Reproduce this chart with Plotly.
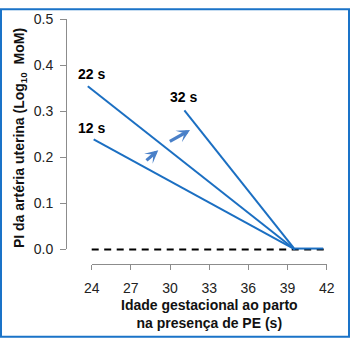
import plotly.graph_objects as go

# ---------------- data ----------------
weeks_12s = [24.15, 39.56]
pi_12s = [0.239, 0.0]
weeks_22s = [23.7, 39.56]
pi_22s = [0.354, 0.0]
weeks_32s = [31.1, 39.56]
pi_32s = [0.302, 0.0]
weeks_after = [39.56, 41.73]
pi_after = [0.002, 0.002]
baseline_weeks = [24, 42]
baseline_pi = [0.0, 0.0]

label_text = ["12 s", "22 s", "32 s"]
label_x = [24.0, 24.0, 31.0]
label_y = [0.263, 0.380, 0.331]

arrow_tail_x = [28.08, 29.87]
arrow_tail_y = [0.1905, 0.2326]
arrow_head_x = [29.10, 31.53]
arrow_head_y = [0.215, 0.259]

x_ticks = [24, 27, 30, 33, 36, 39, 42]
y_ticks = [0.0, 0.1, 0.2, 0.3, 0.4, 0.5]
y_ticktext = ["0.0", "0.1", "0.2", "0.3", "0.4", "0.5"]

x_title = "<b>Idade gestacional ao parto<br>na presença de PE (s)</b>"
y_title = "<b>PI da artéria uterina (Log<sub>10</sub> \u00a0MoM)</b>"

# ---------------- geometry ----------------
W, H = 350, 340
L, R, T, B = 66, 20, 11, 76
PW, PH = W - L - R, H - T - B
X0_PX, X1_PX = 91.7, 326.7          # pixel of 24 and 42
Y0_PX, Y1_PX = 249.0, 11.0          # pixel of 0.0 and 0.5
ppx = (X1_PX - X0_PX) / (x_ticks[-1] - x_ticks[0])
ppy = (Y0_PX - Y1_PX) / (y_ticks[-1] - y_ticks[0])
xmin = x_ticks[0] - (X0_PX - L) / ppx
xmax = x_ticks[0] + (L + PW - X0_PX) / ppx
ymin = y_ticks[0] - (T + PH - Y0_PX) / ppy
ymax = y_ticks[0] + (Y0_PX - T) / ppy

FONT = "Arial, 'Liberation Sans', sans-serif"
BLUE = "#1b6fc2"
ARROW = "#4a80c8"
AXIS = "#8c8c8c"

fig = go.Figure()
fig.add_trace(go.Scatter(x=baseline_weeks, y=baseline_pi, mode="lines",
                         line=dict(color="black", width=2, dash="7px,5.5px")))
for xs, ys in [(weeks_12s, pi_12s), (weeks_22s, pi_22s),
               (weeks_32s, pi_32s), (weeks_after, pi_after)]:
    fig.add_trace(go.Scatter(x=xs, y=ys, mode="lines",
                             line=dict(color=BLUE, width=2)))
# carrier for the displayed (R-style) axes
fig.add_trace(go.Scatter(x=[None], y=[None], xaxis="x2", yaxis="y2",
                         mode="lines", hoverinfo="skip"))

anns = []
for t, x, y in zip(label_text, label_x, label_y):
    anns.append(dict(x=x, y=y, xref="x", yref="y", text="<b>" + t + "</b>",
                     showarrow=False, font=dict(family=FONT, size=14, color="black"),
                     xanchor="center", yanchor="middle"))
for tx, ty, hx, hy in zip(arrow_tail_x, arrow_tail_y, arrow_head_x, arrow_head_y):
    anns.append(dict(x=hx, y=hy, xref="x", yref="y", ax=tx, ay=ty,
                     axref="x", ayref="y", text="", showarrow=True,
                     arrowhead=3, arrowsize=0.68, arrowwidth=3.2,
                     arrowcolor=ARROW, standoff=0, startstandoff=0))
anns.append(dict(x=((X0_PX + X1_PX) / 2 - L) / PW, y=(T + PH - 316) / PH,
                 xref="paper", yref="paper", text=x_title, showarrow=False,
                 font=dict(family=FONT, size=14, color="#111"),
                 xanchor="center", yanchor="middle", align="center"))
anns.append(dict(x=(20 - L) / PW, y=(T + PH - 134) / PH,
                 xref="paper", yref="paper", text=y_title, showarrow=False,
                 textangle=-90, font=dict(family=FONT, size=14, color="#111"),
                 xanchor="center", yanchor="middle"))

fig.update_layout(
    width=W, height=H, margin=dict(l=L, r=R, t=T, b=B, pad=0),
    paper_bgcolor="white", plot_bgcolor="rgba(0,0,0,0)", showlegend=False,
    hovermode=False,
    font=dict(family=FONT, size=14, color="#222"),
    xaxis=dict(range=[xmin, xmax], visible=False, domain=[0, 1]),
    yaxis=dict(range=[ymin, ymax], visible=False, domain=[0, 1]),
    xaxis2=dict(range=[x_ticks[0], x_ticks[-1]], anchor="free", position=0,
                domain=[(X0_PX - L) / PW, (X1_PX - L) / PW],
                tickvals=x_ticks, ticks="outside", ticklen=5, tickwidth=1,
                tickcolor=AXIS, showline=True, linecolor=AXIS, linewidth=1,
                showgrid=False, zeroline=False, ticklabelstandoff=6,
                tickfont=dict(family=FONT, size=14, color="#222")),
    yaxis2=dict(range=[y_ticks[0], y_ticks[-1]], anchor="free", position=0,
                domain=[(T + PH - Y0_PX) / PH, 1],
                tickvals=y_ticks, ticktext=y_ticktext, ticks="outside",
                ticklen=6, tickwidth=1, tickcolor=AXIS, showline=True,
                linecolor=AXIS, linewidth=1, showgrid=False, zeroline=False,
                ticklabelstandoff=4,
                tickfont=dict(family=FONT, size=14, color="#222")),
    annotations=anns,
    shapes=[dict(type="rect", xref="paper", yref="paper",
                 x0=(1 - L) / PW, x1=(W - 1 - L) / PW,
                 y0=(T + PH - (H - 1)) / PH, y1=(T + PH - 1) / PH,
                 line=dict(color="#1a73c8", width=2), layer="above")],
)

fig.write_html("out.html", config={"displayModeBar": False})
